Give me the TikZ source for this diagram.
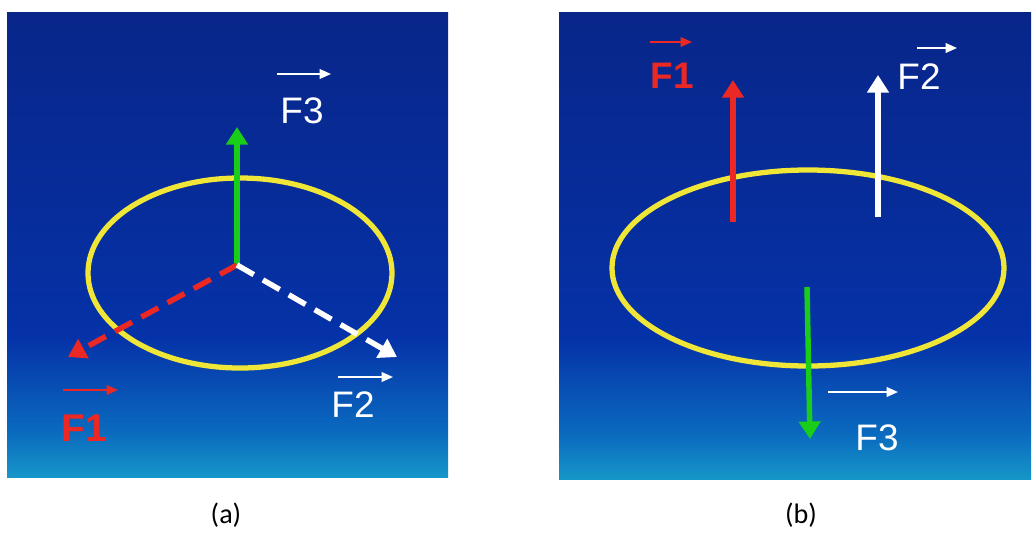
\documentclass[tikz,border=0pt]{standalone}
\usepackage{fontspec}
\setmainfont{Liberation Sans}
\newfontfamily\capfont{Carlito}
\usetikzlibrary{arrows.meta,positioning}
\definecolor{PanelTop}{RGB}{8,38,138}
\definecolor{PanelMid}{RGB}{5,50,168}
\definecolor{PanelLow}{RGB}{10,105,190}
\definecolor{PanelBot}{RGB}{22,150,200}
\definecolor{RingYellow}{RGB}{240,230,55}
\definecolor{ForceRed}{RGB}{235,40,35}
\definecolor{ForceGreen}{RGB}{25,205,25}
\pgfdeclareverticalshading{panelsky}{100bp}{color(0bp)=(PanelBot); color(25bp)=(PanelBot); color(30bp)=(PanelLow); color(40bp)=(PanelMid); color(52bp)=(PanelMid!60!PanelTop); color(75bp)=(PanelTop); color(100bp)=(PanelTop)}

\begin{document}
\begin{tikzpicture}[
    x=0.02cm, y=-0.02cm,
    panel/.style={shading=panelsky, draw=none},
    ring/.style={draw=RingYellow, line width=3pt},
    force/.style={line width=3.1pt, -{Triangle[width=12pt,length=10pt]}},
    dashforce/.style={force, dash pattern=on 11pt off 6pt},
    vecbar/.style={line width=1.1pt, -{Triangle[width=5.5pt,length=6.5pt]}},
    lbl/.style={font=\fontsize{21}{23}\selectfont, text=white, inner sep=0pt},
    redlbl/.style={lbl, font=\bfseries\fontsize{22}{24}\selectfont, text=ForceRed},
    caplbl/.style={font=\capfont\fontsize{16}{18}\selectfont, inner sep=0pt},
  ]
    \useasboundingbox (0,0) rectangle (1035,542);

    % (a) forces meeting at the centre
    \path[panel] (7,12) rectangle (448,477);
    \draw[ring] (240,273) ellipse [x radius=152, y radius=95];

    \coordinate (oa) at (237,265);
    \coordinate (aup) at (237,127);
    \coordinate (aleft) at (68,357);
    \coordinate (aright) at (397,357);
    \draw[force, ForceGreen] (oa) -- (aup);
    \draw[dashforce, ForceRed] (oa) -- (aleft);
    \draw[dashforce, white] (oa) -- (aright);

    \node[lbl] (fthreea) at (302,111) {F3};
    \node[lbl] (ftwoa) at (353,405) {F2};
    \node[redlbl] (fonea) at (84,428) {F1};
    \coordinate (fthreea0) at (277,74);  \coordinate (fthreea1) at (331,74);
    \coordinate (ftwoa0) at (338,377);   \coordinate (ftwoa1) at (393,377);
    \coordinate (fonea0) at (63,390);    \coordinate (fonea1) at (118,390);
    \draw[vecbar, white] (fthreea0) -- (fthreea1);
    \draw[vecbar, white] (ftwoa0) -- (ftwoa1);
    \draw[vecbar, ForceRed] (fonea0) -- (fonea1);

    % (b) forces on the ring
    \path[panel] (559,12) rectangle (1031,479);
    \draw[ring] (808,268) ellipse [x radius=196, y radius=98];

    \coordinate (rb0) at (733,222);   \coordinate (rb1) at (733,80);
    \coordinate (wb0) at (878,217);   \coordinate (wb1) at (878,75);
    \coordinate (gb0) at (807,287);   \coordinate (gb1) at (810,439);
    \draw[force, ForceRed] (rb0) -- (rb1);
    \draw[force, white] (wb0) -- (wb1);
    \draw[force, ForceGreen] (gb0) -- (gb1);

    \node[redlbl, font=\bfseries\fontsize{21}{23}\selectfont] (foneb) at (672,76) {F1};
    \node[lbl] (ftwob) at (919,77) {F2};
    \node[lbl] (fthreeb) at (877,438) {F3};
    \coordinate (foneb0) at (650,42);    \coordinate (foneb1) at (692,42);
    \coordinate (ftwob0) at (917,48);    \coordinate (ftwob1) at (957,48);
    \coordinate (fthreeb0) at (828,392); \coordinate (fthreeb1) at (898,392);
    \draw[vecbar, ForceRed] (foneb0) -- (foneb1);
    \draw[vecbar, white] (ftwob0) -- (ftwob1);
    \draw[vecbar, white] (fthreeb0) -- (fthreeb1);

    % captions
    \node[caplbl] (capa) at (226,515) {(a)};
    \node[caplbl] (capb) at (801,515) {(b)};
  \end{tikzpicture}
\end{document}
